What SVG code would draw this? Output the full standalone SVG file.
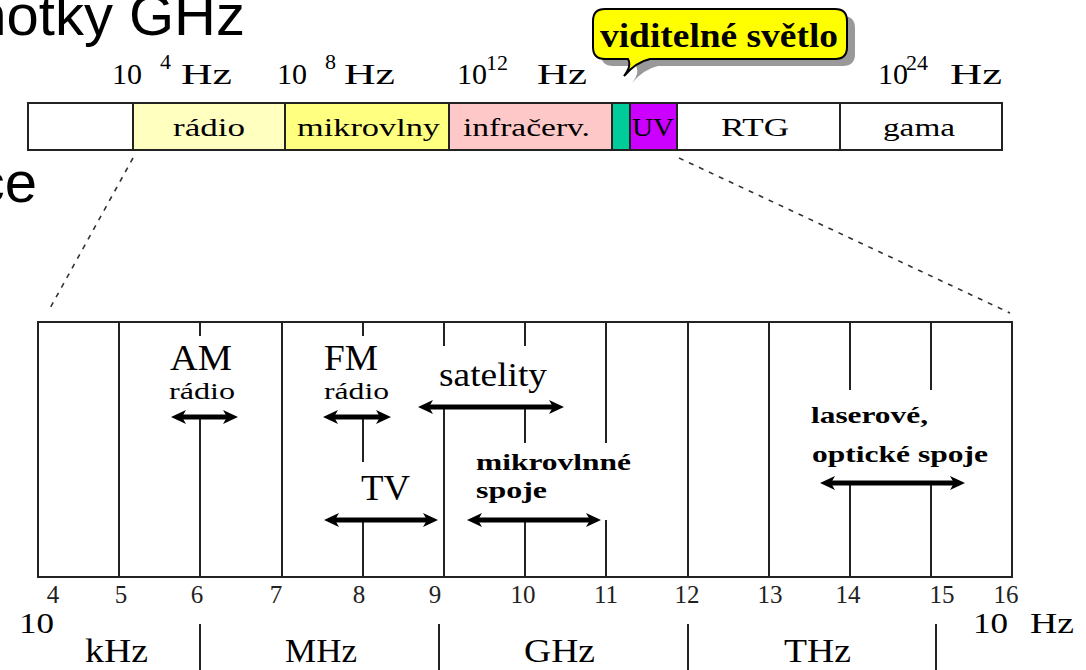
<svg xmlns="http://www.w3.org/2000/svg" width="1086" height="670" viewBox="0 0 1086 670">
<style>
.t{font-family:"Liberation Serif","Times New Roman",serif;fill:#000}
.big{font-family:"Liberation Sans",Arial,sans-serif;font-size:58px;fill:#000}
.lbl{font-size:30px}
.sup{font-size:22px}
.cell{font-size:25px}
.num{font-size:25px;fill:#222}
.unit{font-size:34px}
.b{font-weight:bold}
.cellbox{stroke:#222;stroke-width:2}
.grid{stroke:#222;stroke-width:2;fill:none}
.dash{stroke:#333;stroke-width:1.6;stroke-dasharray:5 6;fill:none}
.arr{stroke:#000;stroke-width:5;fill:none;marker-start:url(#ah);marker-end:url(#ah)}
</style>
<defs>
<marker id="ah" markerUnits="userSpaceOnUse" markerWidth="18" markerHeight="16" refX="6" refY="8" orient="auto-start-reverse" viewBox="0 0 18 16">
<path d="M0,1 L15,8 L0,15 L4,8 Z" fill="#000"/>
</marker>
</defs>
<rect width="1086" height="670" fill="#fff"/>

<g id="title">
<text class="big" x="245" y="35" text-anchor="end">notky GHz</text>
<text class="big" x="37" y="202" text-anchor="end">ce</text>
</g>

<g id="top-scale-labels">
<text class="t lbl" x="112" y="84">10</text><text class="t sup" x="160" y="69">4</text><text class="t lbl" x="181" y="84" textLength="51" lengthAdjust="spacingAndGlyphs">Hz</text>
<text class="t lbl" x="277" y="84">10</text><text class="t sup" x="325" y="69">8</text><text class="t lbl" x="344" y="84" textLength="51" lengthAdjust="spacingAndGlyphs">Hz</text>
<text class="t lbl" x="457" y="84">10</text><text class="t sup" x="486" y="70">12</text><text class="t lbl" x="537" y="84" textLength="50" lengthAdjust="spacingAndGlyphs">Hz</text>
<text class="t lbl" x="878" y="84">10</text><text class="t sup" x="906" y="70">24</text><text class="t lbl" x="950" y="84" textLength="52" lengthAdjust="spacingAndGlyphs">Hz</text>
</g>

<g id="callout">
<path d="M613,16 H843 Q855,16 855,28 V54 Q855,66 843,66 H658 Q644,69 632,83 Q640,73 636,66 H613 Q601,66 601,54 V28 Q601,16 613,16 Z" fill="#999"/>
<path d="M605,9 H835 Q847,9 847,21 V47 Q847,59 835,59 H650 Q636,62 624,76 Q632,66 628,59 H605 Q593,59 593,47 V21 Q593,9 605,9 Z" fill="#ffff00" stroke="#000" stroke-width="2"/>
<text class="t b" x="600" y="47" font-size="34" textLength="238" lengthAdjust="spacingAndGlyphs">viditelné světlo</text>
</g>

<g id="spectrum-bar">
<rect class="cellbox" x="28" y="103" width="105" height="47" fill="#ffffff"/>
<rect class="cellbox" x="133" y="103" width="152" height="47" fill="#ffffc0"/>
<rect class="cellbox" x="285" y="103" width="164" height="47" fill="#ffff80"/>
<rect class="cellbox" x="449" y="103" width="163" height="47" fill="#ffc8c8"/>
<rect class="cellbox" x="612" y="103" width="18" height="47" fill="#00cc99"/>
<rect class="cellbox" x="630" y="103" width="47" height="47" fill="#cc00ff"/>
<rect class="cellbox" x="677" y="103" width="163" height="47" fill="#ffffff"/>
<rect class="cellbox" x="840" y="103" width="162" height="47" fill="#ffffff"/>
<text class="t cell" x="173" y="136" textLength="72" lengthAdjust="spacingAndGlyphs">rádio</text>
<text class="t cell" x="297" y="136" textLength="143" lengthAdjust="spacingAndGlyphs">mikrovlny</text>
<text class="t cell" x="463" y="136" textLength="127" lengthAdjust="spacingAndGlyphs">infračerv.</text>
<text class="t cell" x="632" y="136" textLength="42" lengthAdjust="spacingAndGlyphs">UV</text>
<text class="t cell" x="721" y="136" textLength="68" lengthAdjust="spacingAndGlyphs">RTG</text>
<text class="t cell" x="883" y="136" textLength="72" lengthAdjust="spacingAndGlyphs">gama</text>
</g>

<g id="zoom-lines">
<line class="dash" x1="133" y1="158" x2="49" y2="310"/>
<line class="dash" x1="679" y1="158" x2="1010" y2="313"/>
</g>

<g id="detail-box">
<rect class="grid" x="38" y="322" width="974" height="255"/>
<path class="grid" d="M119,322V577 M282,322V577 M688,322V577 M769,322V577
M200,322V336 M200,417V577
M363,322V336 M363,417V462 M363,520V577
M444,322V346 M444,407V577
M525,322V346 M525,407V443 M525,520V577
M606,322V443 M606,520V577
M850,322V390 M850,483V577
M931,322V390 M931,483V577"/>
</g>

<g id="arrows">
<line class="arr" x1="180" y1="417" x2="229" y2="417"/>
<line class="arr" x1="332" y1="417" x2="382" y2="417"/>
<line class="arr" x1="427" y1="407" x2="555" y2="407"/>
<line class="arr" x1="333" y1="520" x2="429" y2="520"/>
<line class="arr" x1="476" y1="520" x2="592" y2="520"/>
<line class="arr" x1="829" y1="483" x2="956" y2="483"/>
</g>

<g id="band-labels">
<text class="t" x="170" y="370" font-size="36" textLength="62" lengthAdjust="spacingAndGlyphs">AM</text>
<text class="t" x="169" y="399" font-size="23" textLength="66" lengthAdjust="spacingAndGlyphs">rádio</text>
<text class="t" x="324" y="370" font-size="36" textLength="54" lengthAdjust="spacingAndGlyphs">FM</text>
<text class="t" x="324" y="399" font-size="23" textLength="65" lengthAdjust="spacingAndGlyphs">rádio</text>
<text class="t" x="439" y="386" font-size="33" textLength="108" lengthAdjust="spacingAndGlyphs">satelity</text>
<text class="t" x="361" y="500" font-size="36" textLength="49" lengthAdjust="spacingAndGlyphs">TV</text>
<text class="t b" x="476" y="470" font-size="23" textLength="155" lengthAdjust="spacingAndGlyphs">mikrovlnné</text>
<text class="t b" x="476" y="498" font-size="23" textLength="71" lengthAdjust="spacingAndGlyphs">spoje</text>
<text class="t b" x="811" y="423" font-size="23" textLength="117" lengthAdjust="spacingAndGlyphs">laserové,</text>
<text class="t b" x="812" y="462" font-size="23" textLength="176" lengthAdjust="spacingAndGlyphs">optické spoje</text>
</g>

<g id="axis-numbers" text-anchor="middle">
<text class="t num" x="53" y="603">4</text>
<text class="t num" x="121" y="603">5</text>
<text class="t num" x="197" y="603">6</text>
<text class="t num" x="276" y="603">7</text>
<text class="t num" x="359" y="603">8</text>
<text class="t num" x="435" y="603">9</text>
<text class="t num" x="523" y="603">10</text>
<text class="t num" x="606" y="603">11</text>
<text class="t num" x="687" y="603">12</text>
<text class="t num" x="770" y="603">13</text>
<text class="t num" x="848" y="603">14</text>
<text class="t num" x="942" y="603">15</text>
<text class="t num" x="1006" y="603">16</text>
</g>

<g id="axis-units">
<text class="t" x="19" y="633" font-size="30" textLength="35" lengthAdjust="spacingAndGlyphs">10</text>
<text class="t" x="973" y="633" font-size="30" textLength="35" lengthAdjust="spacingAndGlyphs">10</text>
<text class="t" x="1030" y="633" font-size="30" textLength="44" lengthAdjust="spacingAndGlyphs">Hz</text>
<text class="t unit" x="85" y="662" textLength="63" lengthAdjust="spacingAndGlyphs">kHz</text>
<text class="t unit" x="285" y="662" textLength="72" lengthAdjust="spacingAndGlyphs">MHz</text>
<text class="t unit" x="524" y="662" textLength="71" lengthAdjust="spacingAndGlyphs">GHz</text>
<text class="t unit" x="784" y="662" textLength="67" lengthAdjust="spacingAndGlyphs">THz</text>
<path class="grid" d="M200,624V670 M439,624V670 M688,624V670 M936,624V670"/>
</g>
</svg>
